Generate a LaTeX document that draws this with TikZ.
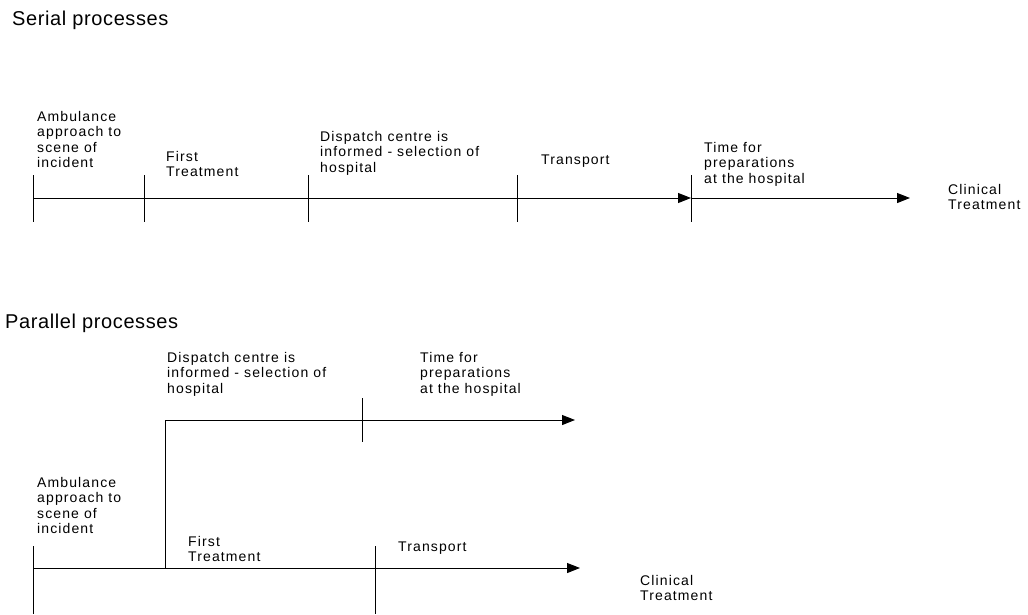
\documentclass[tikz,border=0pt]{standalone}
\usepackage{fontspec}
\setmainfont{Liberation Sans}
\newfontfamily\lblfont{Liberation Sans}[LetterSpace=8]
\newfontfamily\ttlfont{Liberation Sans}[LetterSpace=3]
\usetikzlibrary{arrows.meta}

\begin{document}
\begin{tikzpicture}[x=1pt, y=-1pt,
    lbl/.style={align=left, anchor=north west, inner sep=0pt,
        font=\lblfont\fontsize{14}{15.5}\selectfont},
    ttl/.style={anchor=north west, inner sep=0pt,
        font=\ttlfont\fontsize{20}{24}\selectfont},
    tl/.style={line width=1pt},
    arr/.style={tl, -{Triangle[length=13pt, width=10pt]}}
]
    \useasboundingbox (0,0) rectangle (1028,614);

    % Serial processes
    \node[ttl] (sertitle) at (12,11) {Serial processes};

    % Time line with its steps
    \coordinate (s0) at (33,198);
    \coordinate (s4) at (691,198);
    \coordinate (s5) at (910,198);
    \draw[arr] (s0) -- (s4);
    \draw[arr] (s4) -- (s5);
    \foreach \x in {33,144,308,517,691}
        \draw[tl] (\x,175) -- (\x,222);

    % Labels of the steps
    \node[lbl] (samb) at (37,111) {Ambulance\\approach to\\scene of\\incident};
    \node[lbl] (sfirst) at (166,151) {First\\Treatment};
    \node[lbl] (sdisp) at (320,131) {Dispatch centre is\\informed - selection of\\hospital};
    \node[lbl] (strans) at (541,155) {Transport};
    \node[lbl] (sprep) at (704,142) {Time for\\preparations\\at the hospital};
    \node[lbl] (sclin) at (948,184) {Clinical\\Treatment};

    % Parallel processes
    \node[ttl] (partitle) at (5,314) {Parallel processes};

    % Two time lines, the upper one branching off
    \coordinate (p0) at (33,568);
    \coordinate (pfork) at (165,568);
    \coordinate (pup) at (165,420);
    \coordinate (pupend) at (575,420);
    \coordinate (pend) at (580,568);
    \draw[arr] (p0) -- (pend);
    \draw[arr] (pfork) -- (pup) -- (pupend);
    \draw[tl] (362,398) -- (362,442);
    \foreach \x in {33,375}
        \draw[tl] (\x,546) -- (\x,614);

    % Labels of the steps
    \node[lbl] (pdisp) at (167,352) {Dispatch centre is\\informed - selection of\\hospital};
    \node[lbl] (pprep) at (420,352) {Time for\\preparations\\at the hospital};
    \node[lbl] (pamb) at (37,477) {Ambulance\\approach to\\scene of\\incident};
    \node[lbl] (pfirst) at (188,536) {First\\Treatment};
    \node[lbl] (ptrans) at (398,542) {Transport};
    \node[lbl] (pclin) at (640,575) {Clinical\\Treatment};
\end{tikzpicture}
\end{document}
